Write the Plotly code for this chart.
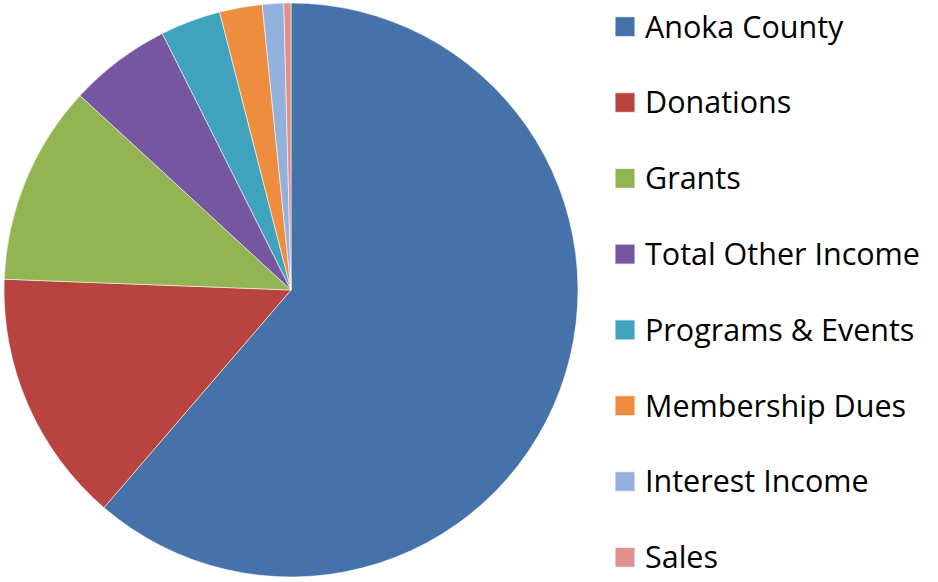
import plotly.graph_objects as go

categories = ["Anoka County", "Donations", "Grants", "Total Other Income",
              "Programs & Events", "Membership Dues", "Interest Income", "Sales"]
values = [61.3, 14.3, 11.25, 5.75, 3.4, 2.4, 1.2, 0.4]
colors = ["#4672AA", "#B8433F", "#93B452", "#7656A0", "#40A3BE", "#EE8D3E", "#93B1DC", "#E0908F"]

W, H = 938, 582
# pie bounds in pixels
px0, px1, py0, py1 = 4, 578, 3, 577

label_size = 30.5
labels = []
for i, c in enumerate(categories):
    lab = '<span style="font-size:%spx">%s</span>' % (label_size, c)
    if i < len(categories) - 1:
        lab += "<br> "
    labels.append(lab)

fig = go.Figure(go.Pie(
    labels=labels,
    values=values,
    sort=False,
    direction="clockwise",
    rotation=0,
    textinfo="none",
    hoverinfo="percent",
    marker=dict(colors=colors, line=dict(color="rgba(255,255,255,0.7)", width=0.8)),
    domain=dict(x=[px0 / W, px1 / W], y=[1 - py1 / H, 1 - py0 / H]),
))

fig.update_layout(
    width=W, height=H,
    margin=dict(l=0, r=0, t=0, b=0),
    paper_bgcolor="white",
    plot_bgcolor="white",
    showlegend=True,
    legend=dict(
        x=605 / W, xanchor="left",
        y=1 - 17 / H, yanchor="top",
        valign="top",
        font=dict(family="Open Sans, Lato, sans-serif", size=28, color="#000000"),
        itemclick=False,
        bgcolor="rgba(0,0,0,0)",
    ),
)

post = (
    "document.body.style.margin='0';document.body.style.overflow='hidden';"
    "document.querySelectorAll('.legendpoints path.legendpie').forEach(function(p){"
    "var t=p.getAttribute('transform')||'';"
    "p.setAttribute('transform',t+' scale(1.67)');});"
)
fig.write_html("out.html", config={"displayModeBar": False}, post_script=post)
